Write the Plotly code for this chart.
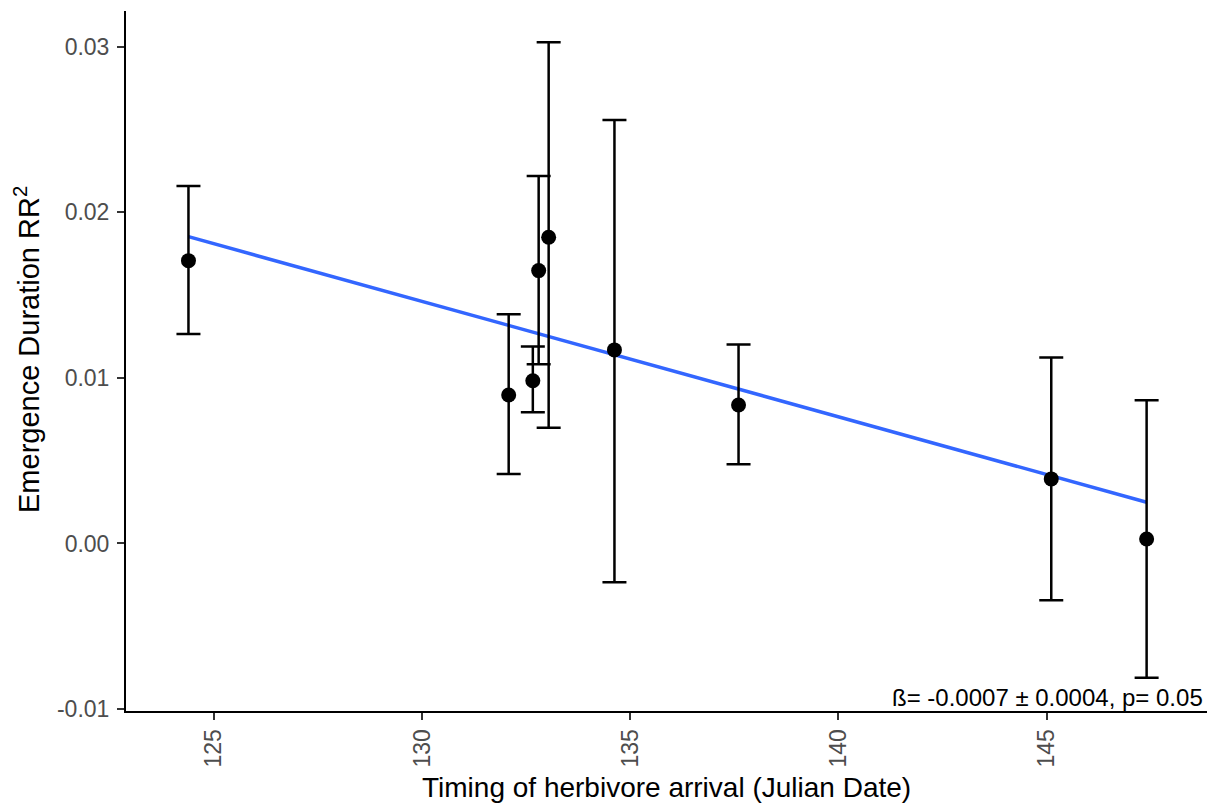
import plotly.graph_objects as go

# Data
arrival_day = [124.39, 132.08, 132.66, 132.80, 133.04, 134.62, 137.60, 145.11, 147.40]
rr2 = [0.01708, 0.00897, 0.00983, 0.01648, 0.01849, 0.01169, 0.00836, 0.00390, 0.00027]
rr2_upper = [0.02159, 0.01384, 0.01189, 0.02220, 0.03027, 0.02558, 0.01201, 0.01123, 0.00865]
rr2_lower = [0.01265, 0.00420, 0.00792, 0.01082, 0.00699, -0.00234, 0.00478, -0.00343, -0.00811]

fit_x = [124.39, 147.40]
fit_y = [0.01853, 0.00249]

x_ticks = [125, 130, 135, 140, 145]
y_ticks = [-0.01, 0.00, 0.01, 0.02, 0.03]
y_tick_text = ["-0.01", "0.00", "0.01", "0.02", "0.03"]

err_plus = [u - v for u, v in zip(rr2_upper, rr2)]
err_minus = [v - l for v, l in zip(rr2, rr2_lower)]

FONT = "Liberation Sans, Arial, sans-serif"

fig = go.Figure()
fig.add_trace(go.Scatter(
    x=fit_x, y=fit_y, mode="lines",
    line=dict(color="#3366FF", width=3.5),
    hoverinfo="skip", showlegend=False,
))
fig.add_trace(go.Scatter(
    x=arrival_day, y=rr2, mode="markers",
    marker=dict(color="black", size=15),
    error_y=dict(type="data", symmetric=False, array=err_plus, arrayminus=err_minus,
                 color="black", thickness=2.5, width=12),
    showlegend=False,
))

L, R, T, B = 126, 7, 11, 96
W, H = 1214, 807
pw = W - L - R
ph = H - T - B

fig.update_layout(
    width=W, height=H,
    margin=dict(l=L, r=R, t=T, b=B, pad=0),
    plot_bgcolor="white", paper_bgcolor="white",
    font=dict(family=FONT),
    xaxis=dict(
        range=[122.89, 148.85], tickvals=x_ticks, ticktext=[str(t) for t in x_ticks],
        tickangle=-90, showgrid=False, zeroline=False,
        showline=True, linecolor="black", linewidth=2,
        ticks="outside", ticklen=7, tickwidth=1.5, tickcolor="#333333",
        tickfont=dict(size=23, color="#4D4D4D", family=FONT),
    ),
    yaxis=dict(
        range=[-0.01012, 0.03216], tickvals=y_ticks, ticktext=y_tick_text,
        showgrid=False, zeroline=False,
        showline=True, linecolor="black", linewidth=2,
        ticks="outside", ticklen=7, tickwidth=1.5, tickcolor="#333333",
        tickfont=dict(size=23, color="#4D4D4D", family=FONT),
        ticklabelstandoff=3,
    ),
    annotations=[
        dict(text="Timing of herbivore arrival (Julian Date)", xref="paper", yref="paper",
             x=0.5, y=(711 - 787) / ph, xanchor="center", yanchor="middle",
             showarrow=False, font=dict(size=28, color="black", family=FONT)),
        dict(text="Emergence Duration RR<sup>2</sup>", xref="paper", yref="paper",
             x=(27 - L) / pw, y=(711 - 350) / ph, xanchor="center", yanchor="middle", textangle=-90,
             showarrow=False, font=dict(size=29, color="black", family=FONT)),
        dict(text="ß= -0.0007 ± 0.0004, p= 0.05", xref="paper", yref="paper",
             x=(1205 - L) / pw, y=(711 - 697.5) / ph, xanchor="right", yanchor="middle",
             showarrow=False, font=dict(size=24, color="black", family=FONT)),
    ],
)

fig.write_html("out.html")
